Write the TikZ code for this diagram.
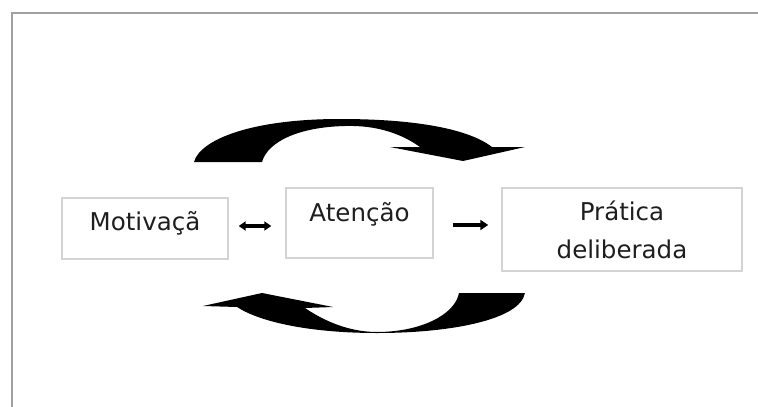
\documentclass[tikz,border=0pt]{standalone}
\usepackage{fontspec}
\setmainfont{DejaVu Sans}
\usetikzlibrary{arrows.meta}
\definecolor{framegray}{HTML}{A0A0A0}
\definecolor{boxgray}{HTML}{D4D4D4}
\definecolor{txt}{HTML}{1E1E1E}
\tikzset{
  box/.style={draw=boxgray, line width=1.4pt, fill=white, inner sep=0pt},
  lbl/.style={anchor=base, inner sep=0pt, text=txt, font=\fontsize{24.5}{29}\selectfont},
  bigarrow/.style={fill=black, draw=none},
  smallarrow/.style={line width=3.5pt, draw=black}
}
\begin{document}
\begin{tikzpicture}[x=1pt,y=-1pt]
\useasboundingbox (0,0) rectangle (758,407);
\fill[white] (0,0) rectangle (758,407);
% outer frame
\draw[framegray, line width=2pt] (12,407) -- (12,12.5) -- (758,12.5);

% boxes
\node[box, minimum width=166pt, minimum height=61pt] (m) at (145,228.5) {};
\node[box, minimum width=147pt, minimum height=70pt] (a) at (359.5,223) {};
\node[box, minimum width=240pt, minimum height=83pt] (p) at (622,229.5) {};

% labels
\node[lbl] (mt) at (145,230) {Motivaçã};
\node[lbl] (at) at (359.5,221) {Atenção};
\node[lbl] (pt1) at (622,220) {Prática};
\node[lbl] (pt2) at (622,258) {deliberada};

% small arrows
\coordinate (d1) at ([xshift=10pt]m.east |- 0,226);
\coordinate (d2) at ([xshift=-14pt]a.west |- 0,226);
\draw[smallarrow, {Triangle[length=7pt,width=9pt]}-{Triangle[length=7pt,width=9pt]}] (d1) -- (d2);
\coordinate (e1) at ([xshift=19pt]a.east |- 0,225);
\coordinate (e2) at ([xshift=-13pt]p.west |- 0,225);
\draw[smallarrow, line width=4pt, -{Triangle[length=8pt,width=10pt]}] (e1) -- (e2);

% top curved arrow
\fill[bigarrow] (194,162) -- (262,162)
  .. controls (268,141) and (300,127) .. (345,126)
  .. controls (377,125) and (402,134) .. (420,147)
  -- (390,147) -- (463,161) -- (525,147) -- (492,147)
  .. controls (470,130) and (420,119) .. (340,119)
  .. controls (250,119) and (200,140) .. (194,162) -- cycle;

% bottom curved arrow
\fill[bigarrow] (459,293) -- (525,293)
  .. controls (520,320) and (450,333) .. (377,333)
  .. controls (310,333) and (260,322) .. (237,307)
  -- (203,306) -- (262,293) -- (333,307) -- (305,308)
  .. controls (330,325) and (355,332) .. (377,332)
  .. controls (420,332) and (455,315) .. (459,293) -- cycle;
\end{tikzpicture}
\end{document}
